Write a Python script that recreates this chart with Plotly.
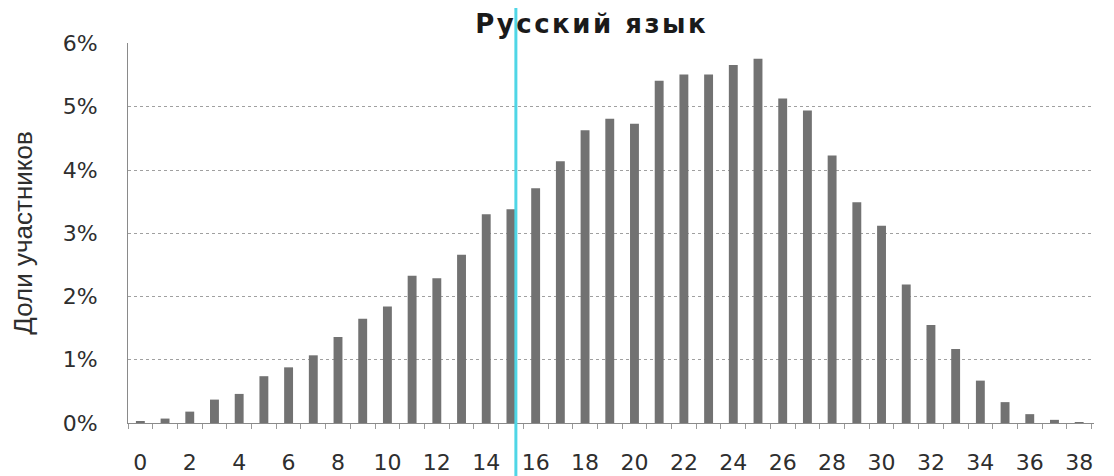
import plotly.graph_objects as go

scores = list(range(0, 39))
shares = [0.02, 0.07, 0.18, 0.37, 0.46, 0.74, 0.88, 1.07, 1.36, 1.65,
          1.84, 2.33, 2.29, 2.66, 3.30, 3.38, 3.71, 4.14, 4.63, 4.81,
          4.73, 5.41, 5.51, 5.51, 5.66, 5.76, 5.13, 4.94, 4.23, 3.49,
          3.12, 2.19, 1.55, 1.17, 0.67, 0.33, 0.14, 0.05, 0.01]
x_tick_vals = list(range(0, 39, 2))
y_tick_vals = [0, 1, 2, 3, 4, 5, 6]
marker_score = 15.2
title_text = "Русский язык"
y_title = "Доли участников"

fig = go.Figure()
fig.add_trace(go.Bar(
    x=scores, y=shares,
    width=0.36,
    marker=dict(color="#727272", line=dict(width=0)),
    showlegend=False,
))

fig.add_shape(type="line", xref="x", yref="paper",
              x0=marker_score, x1=marker_score, y0=-0.2, y1=1.12,
              line=dict(color="#4fd6e6", width=3), layer="above")

fig.update_layout(
    width=1106, height=468,
    margin=dict(l=120, r=20, t=35, b=53),
    paper_bgcolor="white", plot_bgcolor="white",
    title=dict(text=f'<span style="letter-spacing:2.5px">{title_text}</span>',
               x=0.48, xref="paper", xanchor="center",
               y=0.966, yanchor="middle",
               font=dict(family="DejaVu Sans", size=26, color="#1a1a1a", weight="bold")),
)
fig.update_xaxes(
    range=[-0.5, 38.6],
    tickmode="array", tickvals=x_tick_vals, ticktext=[str(v) for v in x_tick_vals],
    ticks="", showgrid=False,
    showline=True, linecolor="#8a8a8a", linewidth=1,
    tickfont=dict(family="DejaVu Sans", size=22, color="#2e2e2e"),
    ticklabelstandoff=20,
    minor=dict(tickmode="linear", tick0=-0.5, dtick=1, ticks="outside",
               ticklen=5, tickcolor="#9a9a9a", showgrid=False),
    zeroline=False, automargin=False,
)
fig.update_yaxes(
    range=[0, 6.008],
    tickmode="array", tickvals=y_tick_vals, ticktext=[f"{v}%" for v in y_tick_vals],
    showgrid=True, gridcolor="#a0a0a0", gridwidth=1, griddash="dot",
    showline=True, linecolor="#8a8a8a", linewidth=1,
    zeroline=False, automargin=False,
    tickfont=dict(family="DejaVu Sans", size=22, color="#2e2e2e"),
    ticklabelstandoff=25,
    title=dict(text=y_title, standoff=30,
               font=dict(family="Liberation Sans", size=26, color="#2e2e2e")),
)

fig.write_html("out.html")
